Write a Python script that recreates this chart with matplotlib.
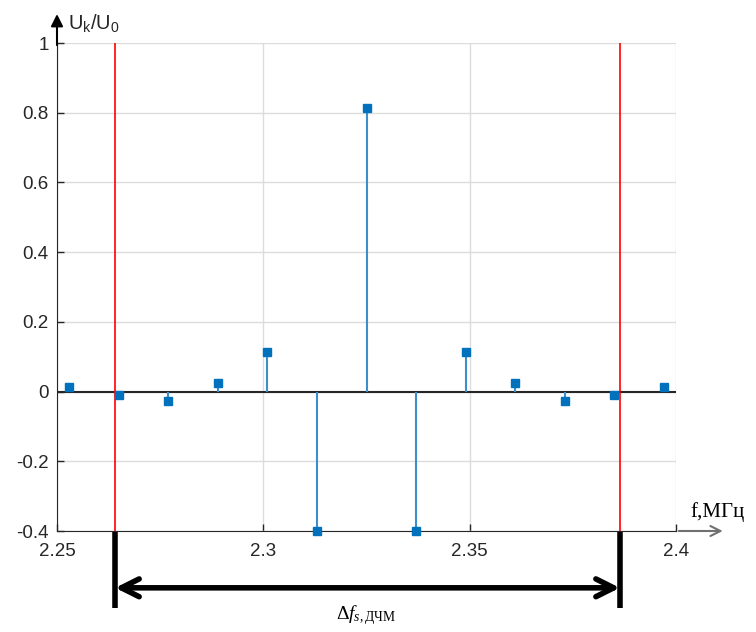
import numpy as np
import matplotlib.pyplot as plt

plt.rcParams['font.family'] = ['Liberation Sans', 'DejaVu Sans']
plt.rcParams['mathtext.fontset'] = 'custom'
plt.rcParams['mathtext.rm'] = 'Liberation Serif'
plt.rcParams['mathtext.it'] = 'Liberation Serif:italic'
plt.rcParams['mathtext.sf'] = 'Liberation Sans'

# spectrum lines (MHz) and amplitudes Uk/U0
freqs = [2.253, 2.265, 2.277, 2.289, 2.301, 2.313, 2.325,
         2.337, 2.349, 2.361, 2.373, 2.385, 2.397]
amps = [0.012, -0.009, -0.027, 0.026, 0.113, -0.4, 0.813,
        -0.4, 0.113, 0.026, -0.027, -0.009, 0.012]
band = [2.2641, 2.3864]
xticks = [2.25, 2.3, 2.35, 2.4]
yticks = [-0.4, -0.2, 0, 0.2, 0.4, 0.6, 0.8, 1]

fig = plt.figure(figsize=(7.56, 6.32), dpi=100)
ax = fig.add_axes([57/756, 101/632, 619/756, 488/632])

ax.set_xlim(2.25, 2.4)
ax.set_ylim(-0.4, 1)
ax.set_xticks(xticks)
ax.set_xticklabels(['2.25', '2.3', '2.35', '2.4'])
ax.set_yticks(yticks)
ax.set_yticklabels(['-0.4', '-0.2', '0', '0.2', '0.4', '0.6', '0.8', '1'])
ax.grid(True, color='#dcdcdc', lw=1)
ax.set_axisbelow(True)
ax.tick_params(direction='in', length=5, width=1, labelsize=13.5, colors='#262626')
ax.tick_params(axis='x', pad=9)
ax.tick_params(axis='y', pad=6)
ax.spines['top'].set_visible(False)
ax.spines['right'].set_visible(False)
ax.spines['left'].set_color('#262626')
ax.spines['bottom'].set_color('#262626')

ax.axhline(0, color='#262626', lw=1.5, zorder=2)
for b in band:
    ax.axvline(b, color='red', lw=1.2, zorder=3)

ax.vlines(freqs, 0, amps, color='#3d8fcc', lw=1.5, zorder=4)
ax.plot(freqs, amps, 's', color='#0072BD', ms=5.5, zorder=5, clip_on=False)

# axis arrows
ax.annotate('', xy=(0, 1.065), xytext=(0, 0.99), xycoords='axes fraction',
            arrowprops=dict(arrowstyle='-|>', color='black', lw=1.5,
                            mutation_scale=18), annotation_clip=False)
ax.annotate('', xy=(1.08, 0), xytext=(1.0, 0), xycoords='axes fraction',
            arrowprops=dict(arrowstyle='->', color='#707070', lw=1.5,
                            mutation_scale=18), annotation_clip=False)
fig.text(68/756, 1 - 29/632, 'U$_\\mathsf{k}$/U$_\\mathsf{0}$', fontsize=14.5,
         color='#262626', va='baseline')
fig.text(690/756, 1 - 517/632, 'f,МГц', family='Liberation Serif', fontsize=15,
         va='baseline')

# band width marker below the axis
for b in band:
    ax.plot([b, b], [-0.4, -0.62], color='black', lw=4, clip_on=False,
            solid_capstyle='butt')
ax.annotate('', xy=(band[0], -0.563), xytext=(band[1], -0.563), xycoords='data',
            arrowprops=dict(arrowstyle='<->', color='black', lw=4,
                            mutation_scale=32, shrinkA=0, shrinkB=0),
            annotation_clip=False)
ax.text(2.325, -0.64, '$\\Delta f_{s,\\mathrm{ДЧМ}}$', fontsize=14,
        ha='center', va='center')

fig.savefig('out.png', dpi=100)
